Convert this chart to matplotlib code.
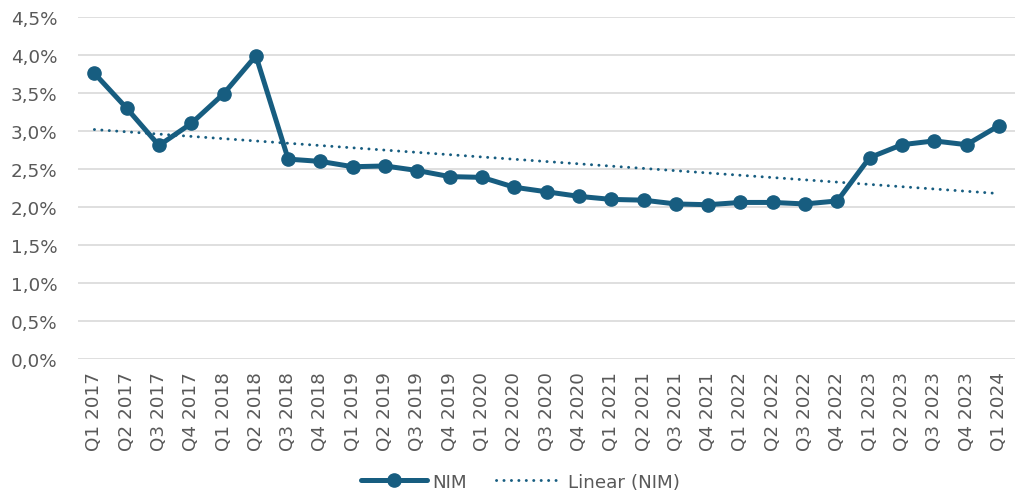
import matplotlib.pyplot as plt
import numpy as np
from matplotlib.ticker import FuncFormatter

quarters = [
    "Q1 2017", "Q2 2017", "Q3 2017", "Q4 2017",
    "Q1 2018", "Q2 2018", "Q3 2018", "Q4 2018",
    "Q1 2019", "Q2 2019", "Q3 2019", "Q4 2019",
    "Q1 2020", "Q2 2020", "Q3 2020", "Q4 2020",
    "Q1 2021", "Q2 2021", "Q3 2021", "Q4 2021",
    "Q1 2022", "Q2 2022", "Q3 2022", "Q4 2022",
    "Q1 2023", "Q2 2023", "Q3 2023", "Q4 2023",
    "Q1 2024",
]
nim = [
    3.76, 3.30, 2.81, 3.10,
    3.49, 3.99, 2.63, 2.60,
    2.53, 2.54, 2.48, 2.40,
    2.39, 2.26, 2.20, 2.14,
    2.10, 2.09, 2.04, 2.03,
    2.06, 2.06, 2.04, 2.08,
    2.65, 2.82, 2.87, 2.82,
    3.07,
]

BLUE = "#175d80"
GREY = "#595959"
FS = 13.2

plt.rcParams["font.family"] = ["DejaVu Sans"]

fig = plt.figure(figsize=(10.16, 5.02), dpi=100)
ax = fig.add_axes([0.077, 0.283, 0.922, 0.681])

x = np.arange(len(quarters))
ax.plot(x, nim, color=BLUE, lw=3.6, marker="o", ms=9.5, label="NIM",
        solid_joinstyle="round", solid_capstyle="round")

# Excel-style linear trendline
slope, intercept = np.polyfit(x, nim, 1)
ax.plot(x, slope * x + intercept, color=BLUE, lw=2.1,
        linestyle=(0, (0.05, 2.5)), dash_capstyle="round", label="Linear (NIM)")

ax.set_xlim(-0.5, len(quarters) - 0.5)
ax.set_ylim(0, 4.5)
ax.set_yticks(np.arange(0, 4.51, 0.5))
ax.yaxis.set_major_formatter(FuncFormatter(lambda v, _: f"{v:.1f}%".replace(".", ",")))
ax.set_xticks(x)
ax.set_xticklabels(quarters, rotation=90)
ax.tick_params(axis="both", length=0, labelsize=FS, colors=GREY)
ax.tick_params(axis="x", pad=9)
ax.tick_params(axis="y", pad=15)
ax.grid(axis="y", color="#d9d9d9", lw=1.2)
ax.set_axisbelow(True)
for s in ax.spines.values():
    s.set_visible(False)

fig.legend(loc="lower center", bbox_to_anchor=(0.512, -0.012), ncol=2, frameon=False,
           fontsize=FS, labelcolor=GREY, handlelength=3.6, columnspacing=1.6,
           handletextpad=0.3)

fig.savefig("out.png", dpi=100)
